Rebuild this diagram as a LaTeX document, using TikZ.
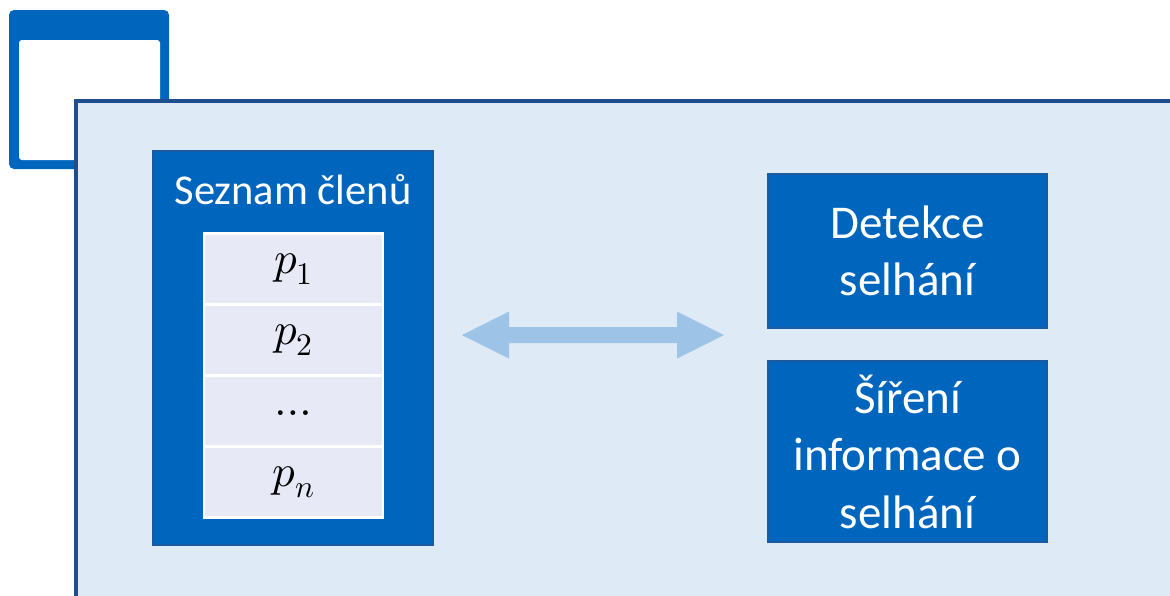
\documentclass[tikz,border=0pt]{standalone}
\usepackage{fontspec}
\usepackage{unicode-math}
\setmainfont{Carlito}
\setmathfont{Latin Modern Math}
\usetikzlibrary{calc}
\definecolor{panelfill}{HTML}{DEEAF6}
\definecolor{paneledge}{HTML}{1F4E8C}
\definecolor{boxblue}{HTML}{0065BD}
\definecolor{boxedge}{HTML}{1B5A9E}
\definecolor{rowfill}{HTML}{E7EAF6}
\definecolor{arrowblue}{HTML}{9DC3E6}
\tikzset{
  bluebox/.style={draw=boxedge, line width=1.5pt, fill=boxblue, text=white,
    inner sep=0pt, align=center, font=\fontsize{47}{57.5}\selectfont},
  rowbox/.style={draw=white, line width=2.5pt, fill=rowfill, inner sep=0pt,
    minimum width=179pt, minimum height=71pt, font=\fontsize{45}{50}\selectfont},
}
\begin{document}
\begin{tikzpicture}[x=1pt,y=-1pt]
\useasboundingbox (0,0) rectangle (1170,595);
% window icon behind the panel
\fill[boxblue, rounded corners=5pt] (9,10) rectangle (169,169);
\fill[white, rounded corners=3pt] (19,40) rectangle (160,160);
% main panel
\draw[paneledge, fill=panelfill, line width=4pt] (76,101) rectangle (1200,640);
% member list
\node[bluebox, minimum width=280pt, minimum height=394pt] (list) at (293,348) {};
\node[text=white, font=\fontsize{42.5}{50}\selectfont] (title) at (293,190) {Seznam členů};
\node[rowbox] (r1) at (293.5,269) {$p_1$};
\node[rowbox] (r2) at (293.5,340) {$p_2$};
\node[rowbox] (r3) at (293.5,411) {$\vphantom{p_1}\dots$};
\node[rowbox] (rn) at (293.5,482) {$p_n$};
% right-hand boxes
\node[bluebox, minimum width=279pt, minimum height=154pt] (det) at (907.5,251)
  {Detekce\\selhání};
\node[bluebox, minimum width=279pt, minimum height=181pt] (sir) at (907.5,451.5)
  {Šíření\\informace o\\selhání};
% two-way arrow
\coordinate (al) at (462,335);
\coordinate (ar) at (724,335);
\fill[arrowblue] (al) -- ++(47,-23.5) -- ++(0,15.5) -- ($(ar)+(-47,-8)$)
  -- ++(0,-15.5) -- (ar) -- ++(-47,23.5) -- ++(0,-15.5) -- ($(al)+(47,8)$)
  -- ++(0,15.5) -- cycle;
\end{tikzpicture}
\end{document}
